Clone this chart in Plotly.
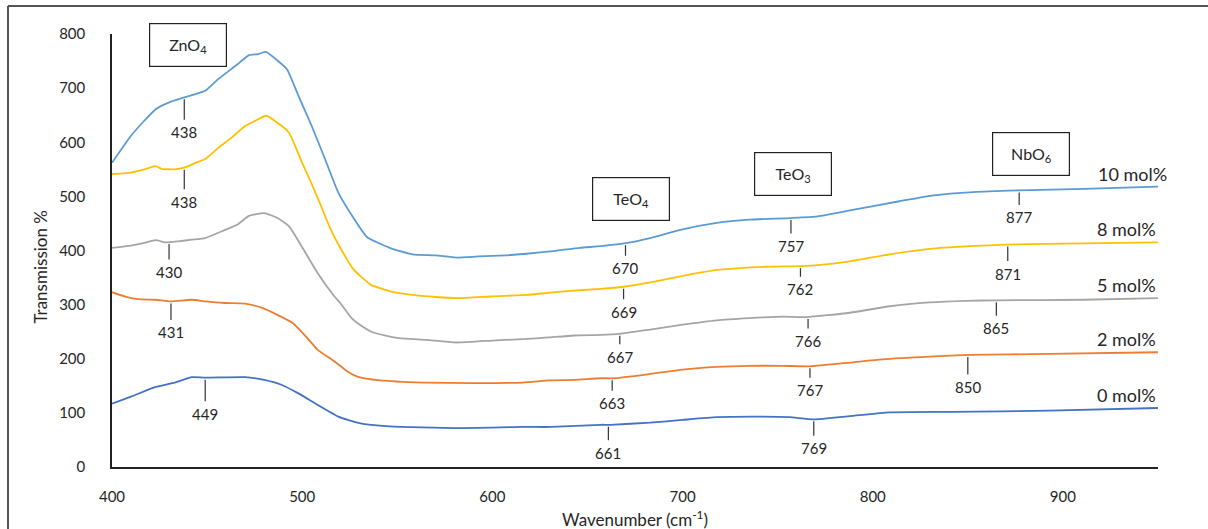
import numpy as np
import plotly.graph_objects as go

# ---------------- data ----------------
series_names = ["10 mol%", "8 mol%", "5 mol%", "2 mol%", "0 mol%"]
series_colors = ["#5B9BD5", "#FFC000", "#A5A5A5", "#ED7D31", "#4472C4"]

x_10 = [400, 410, 416, 423, 431, 438, 444, 449, 456, 463, 466, 472, 477, 481, 487, 492, 498, 505, 512, 519, 527, 534,
        546, 558, 570, 581, 593, 607, 618, 632, 646, 657, 671, 683, 700, 718, 735, 757, 771, 788, 814, 832, 853, 877, 911, 950]
y_10 = [562, 612, 636, 661, 675, 683, 689, 695, 717, 736, 744, 761, 763, 767, 751, 735, 686, 630, 569, 507, 460, 425,
        405, 393, 391, 387, 389, 391, 394, 399, 405, 408, 414, 423, 439, 451, 457, 460, 463, 474, 491, 502, 508, 511, 514, 518]

x_8 = [400, 410, 417, 423, 426, 433, 438, 444, 449, 456, 463, 470, 475, 481, 487, 493, 500, 507, 515, 520, 527, 536,
       546, 560, 581, 599, 618, 639, 657, 669, 686, 704, 721, 744, 762, 774, 788, 809, 830, 851, 870, 911, 950]
y_8 = [541, 544, 550, 556, 551, 550, 553, 562, 569, 590, 609, 630, 639, 649, 636, 618, 562, 507, 439, 405, 365, 337,
       325, 317, 312, 315, 318, 325, 329, 333, 343, 356, 365, 370, 371, 374, 380, 393, 403, 408, 411, 413, 415]

x_5 = [400, 410, 417, 423, 428, 435, 442, 449, 458, 466, 472, 480, 487, 493, 500, 508, 517, 520, 526, 529, 537, 551,
       565, 581, 602, 625, 643, 657, 667, 683, 700, 718, 735, 753, 765, 788, 809, 830, 849, 865, 911, 950]
y_5 = [405, 409, 414, 419, 415, 417, 420, 423, 436, 448, 464, 469, 460, 445, 406, 359, 315, 303, 275, 266, 249, 238,
       235, 230, 234, 238, 243, 244, 246, 254, 263, 271, 275, 278, 277, 285, 297, 304, 307, 308, 309, 312]

x_2 = [400, 407, 414, 423, 431, 442, 449, 459, 470, 479, 487, 495, 502, 508, 517, 524, 529, 541, 564, 590, 616, 630,
       643, 657, 664, 683, 700, 718, 735, 753, 767, 788, 805, 830, 851, 893, 950]
y_2 = [323, 315, 310, 309, 306, 309, 306, 303, 302, 294, 281, 266, 241, 217, 195, 176, 167, 160, 156, 155, 156, 160,
       161, 164, 164, 172, 180, 185, 187, 187, 186, 193, 199, 204, 207, 209, 212]

x_0 = [400, 410, 423, 433, 442, 449, 470, 480, 489, 498, 508, 519, 530, 546, 581, 616, 631, 657, 662, 683, 700, 718,
       739, 756, 769, 788, 809, 841, 893, 950]
y_0 = [117, 130, 148, 156, 166, 165, 166, 161, 152, 136, 115, 93, 81, 75, 72, 74, 74, 78, 78, 82, 87, 92,
       93, 92, 88, 94, 101, 102, 104, 109]

# band positions marked on each curve (cm-1)
peaks_10 = [438, 670, 757, 877]
peaks_8 = [438, 669, 762, 871]
peaks_5 = [430, 667, 766, 865]
peaks_2 = [431, 663, 767, 850]
peaks_0 = [449, 661, 769]

# group boxes: label, wavenumber, transmission
box_labels = ["ZnO<sub>4</sub>", "TeO<sub>4</sub>", "TeO<sub>3</sub>", "NbO<sub>6</sub>"]
box_x = [440, 673, 758, 883]
box_y = [780, 495, 542, 579]

x_ticks = [400, 500, 600, 700, 800, 900]
y_ticks = [0, 100, 200, 300, 400, 500, 600, 700, 800]

# ---------------- styles ----------------
peak_offsets = [
    [35, 25, 28, 27],
    [34, 25, 23, 29],
    [30, 23, 24, 28],
    [31, 25, 24, 32],
    [36, 28, 29],
]
name_xshift = [11, 0, 0, 0, 0]

FONT = "Lato, 'Open Sans', sans-serif"
TXT = "#262626"

xs_all = [x_10, x_8, x_5, x_2, x_0]
ys_all = [y_10, y_8, y_5, y_2, y_0]
peaks_all = [peaks_10, peaks_8, peaks_5, peaks_2, peaks_0]

fig = go.Figure()
for name, col, xs, ys in zip(series_names, series_colors, xs_all, ys_all):
    fig.add_trace(go.Scatter(x=xs, y=ys, mode="lines", name=name,
                             line=dict(color=col, width=1.8, shape="spline", smoothing=0.5),
                             showlegend=False, hoverinfo="x+y"))

annotations = []
for i, (xs, ys, pk) in enumerate(zip(xs_all, ys_all, peaks_all)):
    for j, p in enumerate(pk):
        yv = float(np.interp(p, xs, ys))
        annotations.append(dict(
            x=p, y=yv, xref="x", yref="y", text=str(p),
            showarrow=True, arrowhead=0, arrowwidth=1.2, arrowcolor="#333333",
            ax=0, ay=peak_offsets[i][j], standoff=2, borderpad=3,
            font=dict(family=FONT, size=15, color=TXT)))
    annotations.append(dict(
        x=950, y=ys[-1], xref="x", yref="y", text=series_names[i],
        showarrow=False, xanchor="right", yanchor="bottom", yshift=0, xshift=name_xshift[i],
        font=dict(family=FONT, size=18, color=TXT)))

for lab, bx, by in zip(box_labels, box_x, box_y):
    annotations.append(dict(
        x=bx, y=by, xref="x", yref="y", text=lab, showarrow=False,
        width=74, height=40, bordercolor="#222222", borderwidth=1.2, bgcolor="white",
        font=dict(family=FONT, size=16, color=TXT), xanchor="center", yanchor="middle"))

# axis titles
annotations.append(dict(x=-0.0688, y=0.463, xref="paper", yref="paper", text="Transmission %",
                        textangle=-90, showarrow=False, xanchor="center", yanchor="middle",
                        font=dict(family=FONT, size=17, color=TXT)))
annotations.append(dict(x=0.5, y=-0.118, xref="paper", yref="paper", text="Wavenumber (cm<sup>-1</sup>)",
                        showarrow=False, xanchor="center", yanchor="middle",
                        font=dict(family=FONT, size=17, color=TXT)))

L, R, T, B = 112, 50, 34, 62
W, H = 1208, 529
pw, ph = W - L - R, H - T - B

def px(xp):
    return (xp - L) / pw

def py(yp):
    return (H - B - yp) / ph

shapes = [
    dict(type="line", xref="paper", yref="paper", x0=px(8), x1=px(1215), y0=py(6), y1=py(6),
         line=dict(color="#555555", width=2)),
    dict(type="line", xref="paper", yref="paper", x0=px(8), x1=px(8), y0=py(6), y1=py(540),
         line=dict(color="#555555", width=2)),
]

fig.update_layout(
    width=W, height=H,
    margin=dict(l=L, r=R, t=T, b=B, pad=0),
    paper_bgcolor="white", plot_bgcolor="white",
    annotations=annotations, shapes=shapes,
    font=dict(family=FONT, color=TXT),
)
fig.update_xaxes(range=[400, 950], tickvals=x_ticks, showgrid=False, zeroline=False,
                 showline=True, linecolor="#222222", linewidth=1.5, ticks="",
                 ticklabelstandoff=15, tickfont=dict(family=FONT, size=15, color=TXT))
fig.update_yaxes(range=[0, 800], tickvals=y_ticks, showgrid=False, zeroline=False,
                 showline=True, linecolor="#222222", linewidth=1.5, ticks="",
                 ticklabelstandoff=22, tickfont=dict(family=FONT, size=15, color=TXT))

fig.write_html("out.html", config={"displayModeBar": False},
               post_script="document.body.style.margin='0';")
